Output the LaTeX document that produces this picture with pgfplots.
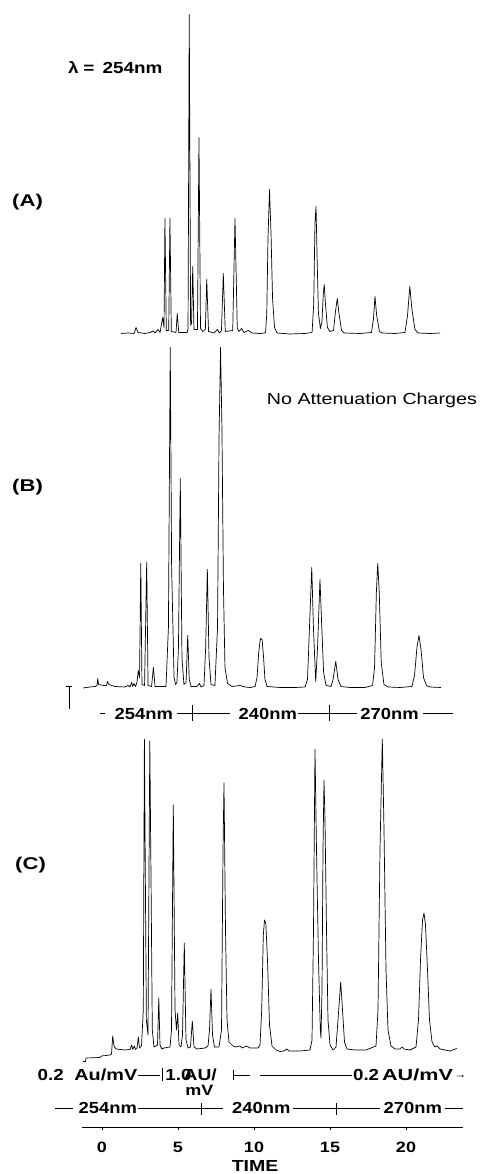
\documentclass[border=0pt]{standalone}
\usepackage{fontspec}
\setmainfont{Liberation Sans}
\usepackage{pgfplots}
\usepackage{pgfplotstable}
\pgfplotsset{compat=1.18}

% horizontally widened labels (bold / regular)
\newcommand{\hb}[3]{\scalebox{#1}[1]{\fontsize{#2}{#2}\selectfont\bfseries #3}}
\newcommand{\hr}[3]{\scalebox{#1}[1]{\fontsize{#2}{#2}\selectfont #3}}

% (A) lambda = 254 nm throughout; time (min) vs detector response
\pgfplotstableread{
t h
1.25 0
1.71 0.5
2.11 0
2.24 6
2.37 1
2.83 0
3.16 1
3.36 2.5
3.49 0.5
3.68 4
3.82 1
3.99 16
4.08 6
4.14 115
4.23 3
4.39 3
4.47 115
4.56 2
4.87 1
4.95 20
5.05 1
5.59 1
5.66 4
5.74 319
5.83 8
5.89 10
5.97 67
6.05 4
6.28 4
6.38 196
6.48 5
6.64 2
6.80 4
6.89 54
7.01 2
7.37 0.5
7.59 4
7.73 0.5
7.86 3
7.98 60
8.11 2
8.60 3
8.75 115
8.90 5
9.01 2
9.19 5
9.34 1
9.62 3
9.87 0.5
10.39 0
10.69 0.5
10.76 1
10.84 20
10.92 95
11.02 144
11.12 100
11.22 35
11.35 6
11.51 0.5
12.37 -0.5
13.36 0
13.82 1
13.93 30
14.01 110
14.08 127
14.16 70
14.24 20
14.37 5
14.47 12
14.56 40
14.62 49
14.70 30
14.83 6
15.00 2
15.23 3
15.36 22
15.48 35
15.59 20
15.76 3
15.92 0.5
16.97 0
17.73 1
17.86 15
17.96 37
18.07 18
18.25 2
18.42 0.5
19.28 0
19.93 1
20.10 18
20.25 47
20.39 24
20.59 4
20.79 0.5
21.58 0
22.24 0.5
}\dataA

% (B) wavelength switched 254 -> 240 -> 270 nm, no attenuation changes
\pgfplotstableread{
t h
-1.25 -0.5
-0.79 0.5
-0.46 1
-0.33 2
-0.28 9
-0.23 3
0.13 2
0.30 2
0.35 6
0.46 3
0.86 1
1.51 0.5
1.71 2
1.84 0.5
1.95 5
2.02 1
2.11 4
2.20 1
2.30 5
2.39 17
2.47 10
2.55 124
2.63 3
2.80 2
2.94 125
3.03 2
3.26 1
3.38 20
3.49 1
4.21 1
4.37 60
4.49 340
4.58 120
4.65 72
4.74 10
4.84 3
4.93 5
5.03 40
5.15 209
5.26 30
5.39 3
5.53 5
5.64 52
5.74 8
5.86 1
6.25 1
6.41 4
6.51 0.5
6.71 2
6.82 40
6.93 118
7.04 30
7.17 3
7.43 2
7.60 60
7.70 250
7.80 340
7.89 260
7.99 100
8.09 20
8.26 4
8.55 1
9.08 2
9.41 0.5
9.74 0
10.07 1
10.20 10
10.31 35
10.42 49
10.53 48
10.63 30
10.72 8
10.86 1
11.71 0
12.70 0
13.36 0.5
13.52 8
13.65 60
13.80 120
13.91 60
14.06 6
14.18 40
14.34 108
14.46 60
14.58 15
14.74 2
15.07 1
15.20 8
15.38 26
15.53 8
15.72 1
16.32 0
17.30 0
17.80 2
17.93 20
18.05 95
18.14 124
18.24 95
18.37 25
18.55 3
18.82 0.5
19.61 0
20.39 1
20.56 12
20.72 40
20.85 52
20.99 38
21.15 10
21.35 2
21.58 0.5
22.30 0
}\dataB

% (C) wavelength and attenuation programmed
\pgfplotstableread{
t h
-1.250 -11.5
-1.086 -11.5
-1.053 -8
-0.132 -7.5
-0.033 -6
0.526 -5
0.625 -4
0.704 14
0.789 4
0.921 1
1.513 0
1.842 0.5
1.954 5
2.020 0.5
2.125 4
2.204 0.5
2.303 2
2.388 13
2.467 2
2.599 4
2.717 40
2.789 311
2.862 150
2.920 30
3.026 15
3.145 309
3.237 150
3.309 20
3.421 3
3.651 5
3.737 52
3.816 5
3.947 1
4.079 2
4.474 3
4.572 20
4.691 245
4.803 40
4.901 20
4.980 37
5.066 5
5.197 3
5.296 15
5.414 107
5.526 10
5.658 2
5.822 3
5.941 29
6.053 3
6.250 1
6.776 2
6.974 4
7.072 20
7.171 61
7.270 15
7.401 3
7.697 3
7.862 20
7.961 200
8.026 267
8.125 120
8.224 30
8.355 8
8.618 4
8.816 3
9.079 4
9.211 2
9.520 4
9.737 2
10.263 2
10.395 5
10.507 40
10.612 115
10.691 130
10.776 127
10.888 90
11.020 25
11.184 4
11.447 0
11.711 -1.5
11.974 -1
12.151 1
12.303 -1
13.026 -1
13.684 0
13.816 10
13.914 120
14.013 301
14.112 200
14.243 90
14.362 20
14.408 12
14.474 60
14.539 200
14.605 270
14.671 230
14.770 120
14.868 30
15.000 5
15.197 0
15.395 3
15.526 30
15.704 68
15.822 40
15.954 8
16.118 1
16.645 0
17.368 0
18.026 4
18.158 40
18.289 200
18.441 311
18.553 220
18.684 80
18.816 20
19.013 4
19.276 1
19.605 1
19.737 3
19.868 1
20.263 0
20.658 3
20.822 30
20.954 90
21.086 130
21.184 137
21.283 125
21.414 80
21.546 30
21.711 8
21.908 3
22.039 4
22.237 1
22.566 0
22.895 -1
23.336 1.5
}\dataC

% shared time scale: 15.2 pt per minute, -1.3 ... 23.75 min
\pgfplotsset{
  trace/.style={scale only axis, width=380.76pt, xmin=-1.3, xmax=23.75,
    clip=false, anchor=south west},
  signal/.style={black, line width=0.7pt, line join=round, mark=none},
}

\begin{document}
\begin{tikzpicture}[x=1pt,y=1pt]
\useasboundingbox (0,0) rectangle (481,1174);

% ---- chromatogram A
\begin{axis}[trace, hide axis, ymin=-10, ymax=330, height=340pt, at={(82.24pt,830.5pt)}]
\addplot[signal] table[x=t,y=h]{\dataA};
\end{axis}

% ---- chromatogram B
\begin{axis}[trace, hide axis, ymin=-10, ymax=345, height=355pt, at={(82.24pt,476.5pt)}]
\addplot[signal] table[x=t,y=h]{\dataB};
\end{axis}

% ---- chromatogram C with the time axis
\begin{axis}[trace, ymin=-77, ymax=320, height=397pt, at={(82.24pt,47pt)},
  axis x line*=bottom, axis y line=none,
  axis line style={line width=0.8pt},
  xtick={0,5,10,15,20},
  xticklabels={\hb{1.2}{15}{0},\hb{1.2}{15}{5},\hb{1.2}{15}{10},\hb{1.2}{15}{15},\hb{1.2}{15}{20}},
  tick align=outside, major tick length=3pt,
  every tick/.style={black, line width=0.8pt},
  xticklabel style={anchor=base, inner sep=0pt, yshift=-23pt},
  xlabel={\hb{1.22}{16}{TIME}},
  xlabel style={at={(axis cs:10.07,-77)}, anchor=base, inner sep=0pt, yshift=-45pt},
]
\addplot[signal] table[x=t,y=h]{\dataC};
\end{axis}

% ---- panel letters and notes
\tikzset{lab/.style={anchor=base west, inner sep=0pt}}
\node[lab] at (68,1100) {\hb{1.18}{16}{λ\hspace{4pt}=\hspace{7pt}254nm}};
\node[lab] at (12,967) {\hb{1.3}{17}{(A)}};
\node[lab] at (12,682) {\hb{1.3}{17}{(B)}};
\node[lab] at (15,304) {\hb{1.3}{17}{(C)}};
\node[lab] at (266.7,769) {\hr{1.23}{16}{No Attenuation Charges}};

% injection mark on B
\draw[line width=0.8pt] (69,465) -- (69,488);
\draw[line width=0.8pt] (66,487.5) -- (72,487.5);

% wavelength program under B
\begin{scope}[line width=0.8pt]
\draw (100,461) -- (105,461);
\node[lab] at (114.3,454) {\hb{1.15}{16}{254nm}};
\draw (176.7,461) -- (230,461);
\draw (192.7,453) -- (192.7,469);
\node[lab] at (238.3,454) {\hb{1.15}{16}{240nm}};
\draw (298.3,461) -- (356.7,461);
\draw (329.3,453) -- (329.3,469);
\node[lab] at (360,454) {\hb{1.15}{16}{270nm}};
\draw (423.3,461) -- (453.3,461);
\end{scope}

% attenuation program under C
\begin{scope}[line width=0.8pt]
\node[lab] at (37.3,93) {\hb{1.17}{16}{0.2}};
\node[lab] at (74,93) {\hb{1.24}{16}{Au/mV}};
\draw (138,99) -- (160,99);
\draw (162,93) -- (162,106);
\node[lab] at (165,93) {\hb{1.17}{16}{1.0}};
\node[lab] at (183.3,93) {\hb{1.2}{16}{AU/}};
\node[lab] at (185,78) {\hb{1.2}{15}{mV}};
\draw (233.3,94) -- (233.3,104);
\draw (233.3,99) -- (250,99);
\draw (260,99) -- (351.7,99);
\node[lab] at (352.7,93) {\hb{1.17}{16}{0.2}};
\node[lab] at (381.7,93) {\hb{1.35}{16}{AU/mV}};
\node[lab] at (454,95) {\hb{1}{12}{→}};
\end{scope}

% wavelength program under C
\begin{scope}[line width=0.8pt]
\draw (55,65.5) -- (73.3,65.5);
\node[lab] at (78.3,60) {\hb{1.15}{16}{254nm}};
\draw[line width=0.6pt] (138.3,65.5) -- (223.3,65.5);
\draw (201,59) -- (201,71);
\node[lab] at (231.7,60) {\hb{1.15}{16}{240nm}};
\draw (293.3,65.5) -- (380,65.5);
\draw (336,59) -- (336,71);
\node[lab] at (383.3,60) {\hb{1.15}{16}{270nm}};
\draw (445,65.5) -- (463.3,65.5);
\end{scope}
\end{tikzpicture}
\end{document}
